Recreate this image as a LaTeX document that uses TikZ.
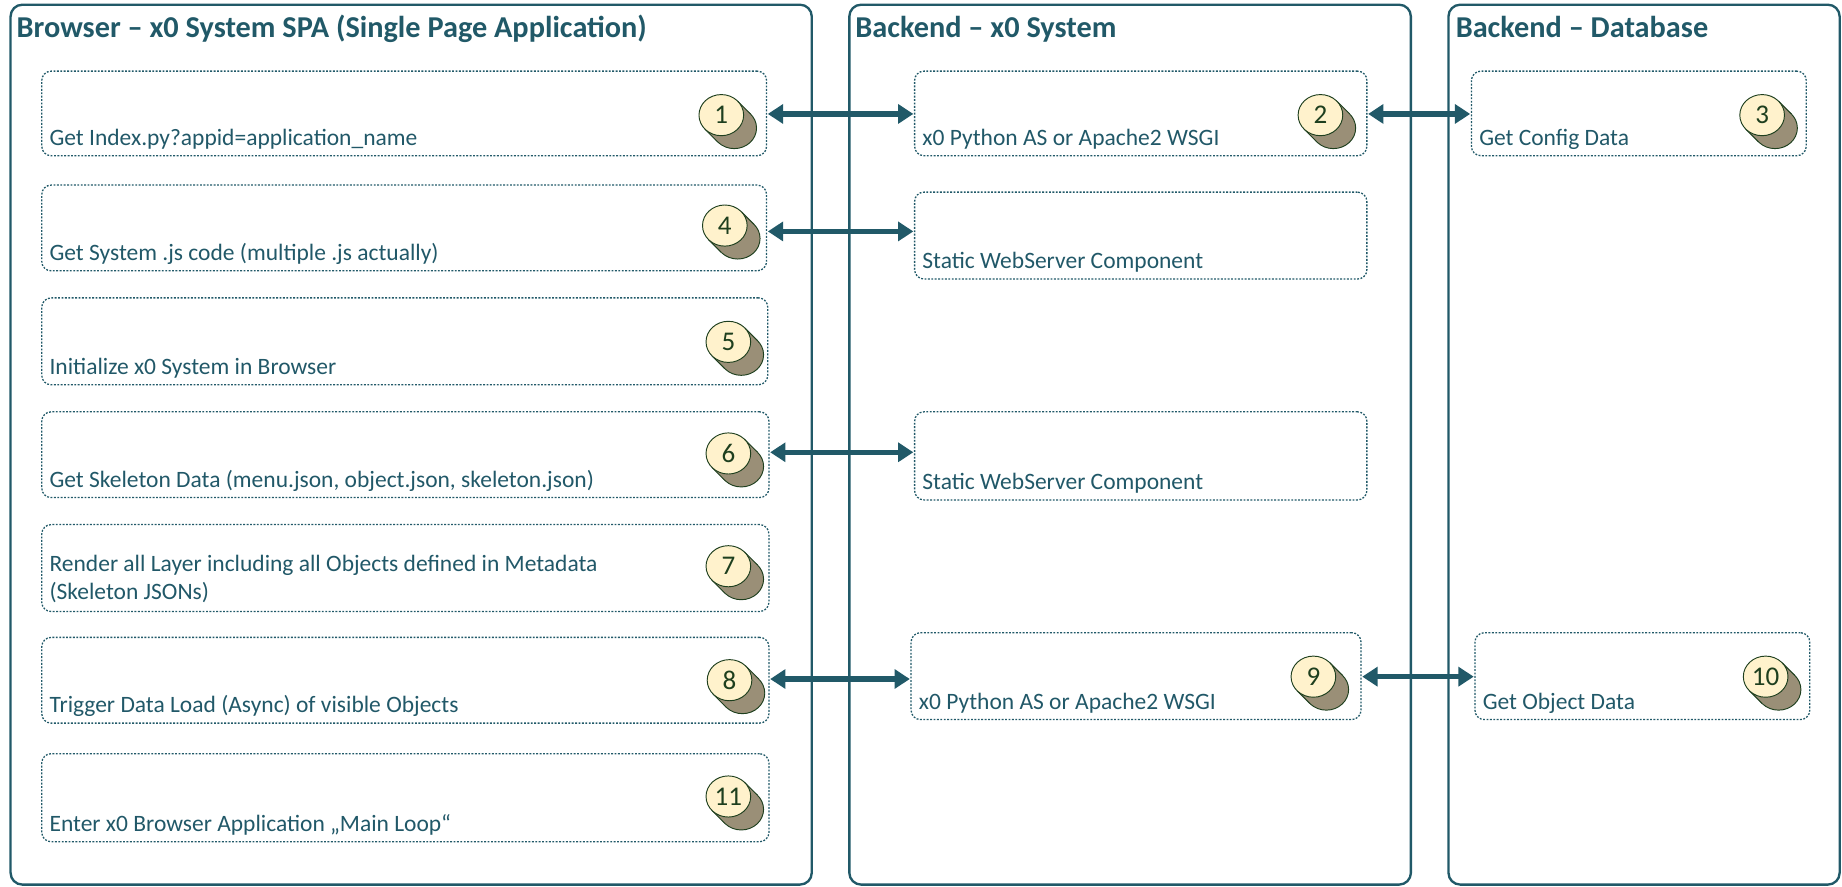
\documentclass[tikz,border=0pt]{standalone}
\usepackage{fontspec}
\setmainfont{Carlito}
\usetikzlibrary{arrows.meta, calc, positioning, shapes.geometric}
\definecolor{lanec}{HTML}{215968}
\definecolor{textc}{HTML}{215868}
\definecolor{coinf}{HTML}{FFF2CC}
\definecolor{coinb}{HTML}{9A8F77}
\definecolor{coinl}{HTML}{1E3F1E}

\newcommand{\coin}[3]{
  \filldraw[coinb, draw=coinl, line width=0.8pt] ($(#2)+(11,11)$) ellipse (19pt and 17.5pt);
  \fill[coinb] ($(#2)+(14,-11.85)$) -- ($(#2)+(25,-0.85)$) -- ($(#2)+(-3,22.85)$) -- ($(#2)+(-14,11.85)$) -- cycle;
  \draw[coinl, line width=0.8pt] ($(#2)+(14,-11.85)$) -- ($(#2)+(25,-0.85)$) ($(#2)+(-3,22.85)$) -- ($(#2)+(-14,11.85)$);
  \node[coin] (#1) at (#2) {#3};
}

\begin{document}
\begin{tikzpicture}[x=1pt, y=-1pt,
    lane/.style={draw=lanec, line width=2pt, rounded corners=10pt, anchor=north west, inner sep=0pt},
    lanetitle/.style={anchor=base west, inner sep=0pt, text=lanec, font=\fontsize{25.8}{30}\selectfont\bfseries},
    box/.style={draw=lanec, line width=1.1pt, dash pattern=on 1.6pt off 1.3pt, rounded corners=8pt, anchor=north west, inner sep=0pt},
    boxtext/.style={anchor=south west, inner sep=0pt, text depth=5pt, align=left, text=textc, font=\fontsize{20}{23}\selectfont},
    coin/.style={ellipse, draw=coinl, line width=0.8pt, fill=coinf, minimum width=38pt, minimum height=35pt, inner sep=0pt, text=coinl, font=\fontsize{23}{23}\selectfont},
    dbl/.style={{Triangle[length=13pt, width=16pt]}-{Triangle[length=13pt, width=16pt]}, line width=4.6pt, draw=lanec, shorten <=0.5pt, shorten >=0.5pt}]
\useasboundingbox (0,0) rectangle (1568,755);

\node[lane, minimum width=682pt, minimum height=749pt] (L1) at (8,3) {};
\node[lane, minimum width=478pt, minimum height=749pt] (L2) at (722,3) {};
\node[lane, minimum width=333pt, minimum height=749pt] (L3) at (1232,3) {};
\node[lanetitle] (t1) at ($(L1.north west)+(6,29)$) {Browser – x0 System SPA (Single Page Application)};
\node[lanetitle] (t2) at ($(L2.north west)+(6,29)$) {Backend – x0 System};
\node[lanetitle] (t3) at ($(L3.north west)+(7,29)$) {Backend – Database};

\node[box, minimum width=617pt, minimum height=72pt] (b1) at (35,60) {};
\node[box, minimum width=617pt, minimum height=73pt] (b4) at (35,157) {};
\node[box, minimum width=618pt, minimum height=74pt] (b5) at (35,253) {};
\node[box, minimum width=619pt, minimum height=73pt] (b6) at (35,350) {};
\node[box, minimum width=619pt, minimum height=74pt] (b7) at (35,446) {};
\node[box, minimum width=619pt, minimum height=73pt] (b8) at (35,542) {};
\node[box, minimum width=619pt, minimum height=75pt] (b11) at (35,641) {};
\node[box, minimum width=385pt, minimum height=72pt] (b2) at (778,60) {};
\node[box, minimum width=385pt, minimum height=74pt] (s1) at (778,163) {};
\node[box, minimum width=385pt, minimum height=75pt] (s2) at (778,350) {};
\node[box, minimum width=383pt, minimum height=74pt] (b9) at (775,538) {};
\node[box, minimum width=285pt, minimum height=72pt] (b3) at (1252,60) {};
\node[box, minimum width=285pt, minimum height=74pt] (b10) at (1255,538) {};

\node[boxtext] (x1) at ($(b1.south west)+(7,-4)$) {Get Index.py?appid=application\_name};
\node[boxtext] (x4) at ($(b4.south west)+(7,-4)$) {Get System .js code (multiple .js actually)};
\node[boxtext] (x5) at ($(b5.south west)+(7,-4)$) {Initialize x0 System in Browser};
\node[boxtext] (x6) at ($(b6.south west)+(7,-4)$) {Get Skeleton Data (menu.json, object.json, skeleton.json)};
\node[boxtext] (x7) at ($(b7.south west)+(7,-6)$) {Render all Layer including all Objects defined in Metadata\\(Skeleton JSONs)};
\node[boxtext] (x8) at ($(b8.south west)+(7,-4)$) {Trigger Data Load (Async) of visible Objects};
\node[boxtext] (x11) at ($(b11.south west)+(7,-4)$) {Enter x0 Browser Application „Main Loop“};
\node[boxtext] (x2) at ($(b2.south west)+(7,-4)$) {x0 Python AS or Apache2 WSGI};
\node[boxtext] (xs1) at ($(s1.south west)+(7,-4)$) {Static WebServer Component};
\node[boxtext] (xs2) at ($(s2.south west)+(7,-4)$) {Static WebServer Component};
\node[boxtext] (x9) at ($(b9.south west)+(7,-4)$) {x0 Python AS or Apache2 WSGI};
\node[boxtext] (x3) at ($(b3.south west)+(7,-4)$) {Get Config Data};
\node[boxtext] (x10) at ($(b10.south west)+(7,-4)$) {Get Object Data};

\coin{k1}{614,98}{1}
\coin{k4}{617,192}{4}
\coin{k5}{620,291}{5}
\coin{k6}{620,386}{6}
\coin{k7}{620,482}{7}
\coin{k8}{621,579}{8}
\coin{k11}{620,678}{11}
\coin{k2}{1124,98}{2}
\coin{k9}{1118,576}{9}
\coin{k3}{1500,98}{3}
\coin{k10}{1503,576}{10}

\draw[dbl] (b1.east |- 0,97) -- (b2.west |- 0,97);
\draw[dbl] (b4.east |- 0,197) -- (s1.west |- 0,197);
\draw[dbl] (b6.east |- 0,385) -- (s2.west |- 0,385);
\draw[dbl] (b8.east |- 0,578) -- (b9.west |- 0,578);
\draw[dbl] (b2.east |- 0,97) -- (b3.west |- 0,97);
\draw[dbl] (b9.east |- 0,576) -- (b10.west |- 0,576);
\end{tikzpicture}
\end{document}
